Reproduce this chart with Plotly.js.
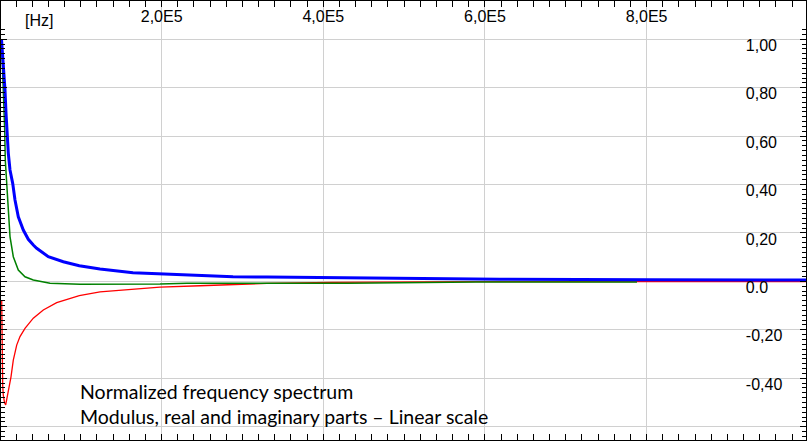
<!DOCTYPE html>
<html>
<head>
<meta charset="utf-8">
<script src="https://cdn.plot.ly/plotly-3.0.1.min.js"></script>
<style>html,body{margin:0;padding:0;background:#fff;}#chart{width:807px;height:441px;}</style>
</head>
<body>
<div id="chart"></div>
<script>
// Frequencies in Hz and normalized values
var modFreq = [1860, 4080, 6190, 7420, 8290, 9030, 10270, 12370, 15710, 18560, 22640, 28830, 35010, 41200, 45410, 59760, 78320, 98110, 123720, 164550, 197950, 238780, 288270, 330330, 419410, 519620, 618600, 804180, 997200];
var modulus = [1.0, 0.907, 0.79, 0.696, 0.625, 0.556, 0.53, 0.46, 0.405, 0.336, 0.267, 0.212, 0.174, 0.150, 0.137, 0.102, 0.081, 0.065, 0.051, 0.036, 0.031, 0.024, 0.019, 0.018, 0.015, 0.012, 0.009, 0.007, 0.006];

var reFreq = [1860, 2850, 4080, 5810, 6560, 8290, 10270, 12370, 16450, 22640, 30930, 41200, 61860, 98980, 197950, 231360, 330330, 430550, 588910, 788100];
var realPart = [1.0, 0.914, 0.79, 0.625, 0.5, 0.405, 0.267, 0.185, 0.102, 0.047, 0.019, 0.006, -0.008, -0.012, -0.011, -0.008, -0.008, -0.008, -0.003, -0.002];

var imFreq = [2100, 2470, 3340, 4080, 5570, 7050, 8290, 10270, 13610, 16450, 20660, 24740, 30930, 41200, 53570, 70150, 98110, 123720, 164550, 197950, 247440, 330330, 409510, 588910, 997200];
var imagPart = [-0.077, -0.30, -0.43, -0.47, -0.50, -0.51, -0.49, -0.449, -0.394, -0.325, -0.263, -0.228, -0.194, -0.152, -0.118, -0.088, -0.059, -0.043, -0.031, -0.024, -0.018, -0.008, -0.004, -0.001, -0.001];

var xTickVals = [200000, 400000, 600000, 800000];
var xTickText = ['2,0E5', '4,0E5', '6,0E5', '8,0E5'];
var yGridVals = [-0.6, -0.4, -0.2, 0, 0.2, 0.4, 0.6, 0.8, 1.0];
var yLabelVals = [-0.4, -0.2, 0, 0.2, 0.4, 0.6, 0.8, 1.0];
var yLabelText = ['-0,40', '-0,20', '0.0', '0,20', '0,40', '0,60', '0,80', '1,00'];
var noteLines = ['Normalized frequency spectrum', 'Modulus, real and imaginary parts \u2013 Linear scale'];

var xRange = [1237, 997200];
var yRange = [-0.655, 1.158];
var tickFont = {family: '"Liberation Sans", Arial, sans-serif', size: 16, color: '#000'};
var noteFont = {family: 'Lato, "Open Sans", sans-serif', size: 19.5, color: '#000'};

var traces = [
  {x: imFreq, y: imagPart, type: 'scatter', mode: 'lines', line: {color: '#ff0000', width: 1.3}, hoverinfo: 'skip'},
  {x: reFreq, y: realPart, type: 'scatter', mode: 'lines', line: {color: '#008000', width: 1.5}, hoverinfo: 'skip'},
  {x: modFreq, y: modulus, type: 'scatter', mode: 'lines', line: {color: '#0000ff', width: 3}, yaxis: 'y2', hoverinfo: 'skip'}
];

var layout = {
  width: 807, height: 441,
  margin: {l: 1, r: 1, t: 1, b: 1, pad: 0},
  paper_bgcolor: '#fff', plot_bgcolor: '#fff',
  showlegend: false,
  xaxis: {
    range: xRange, side: 'top', tickmode: 'array', tickvals: xTickVals, ticktext: xTickText,
    ticks: 'inside', ticklen: 6, tickcolor: '#000', tickwidth: 1,
    ticklabelposition: 'inside', ticklabelstandoff: 4, tickfont: tickFont,
    showgrid: true, gridcolor: '#d0d0d0', gridwidth: 1, zeroline: false,
    showline: true, linecolor: '#000', linewidth: 2, mirror: 'allticks',
    minor: {tickmode: 'linear', tick0: 0, dtick: 20000, ticks: 'inside', ticklen: 4, tickcolor: '#000', showgrid: false}
  },
  yaxis: {
    range: yRange, side: 'right', tickmode: 'array', tickvals: yGridVals,
    showticklabels: false, ticks: 'inside', ticklen: 6, tickcolor: '#000', tickwidth: 1,
    showgrid: true, gridcolor: '#d0d0d0', gridwidth: 1, zeroline: false,
    showline: true, linecolor: '#000', linewidth: 2, mirror: 'allticks',
    minor: {tickmode: 'linear', tick0: 0, dtick: 0.02, ticks: 'inside', ticklen: 4, tickcolor: '#000', showgrid: false}
  },
  yaxis2: {
    range: yRange, overlaying: 'y', side: 'right', anchor: 'free', position: 0.924,
    tickmode: 'array', tickvals: yLabelVals, ticktext: yLabelText, tickfont: tickFont,
    ticks: '', showgrid: false, zeroline: false, showline: false, ticklabelshift: 6
  },
  annotations: [
    {xref: 'paper', yref: 'paper', x: 0.0277, y: 0.9567, xanchor: 'left', yanchor: 'middle', text: '[Hz]', showarrow: false, font: tickFont},
    {xref: 'paper', yref: 'paper', x: 0.096, y: 0.082, xanchor: 'left', yanchor: 'middle', align: 'left', text: noteLines.join('<br>'), showarrow: false, font: noteFont}
  ]
};

Plotly.newPlot('chart', traces, layout, {displayModeBar: false, staticPlot: true});
</script>
</body>
</html>
